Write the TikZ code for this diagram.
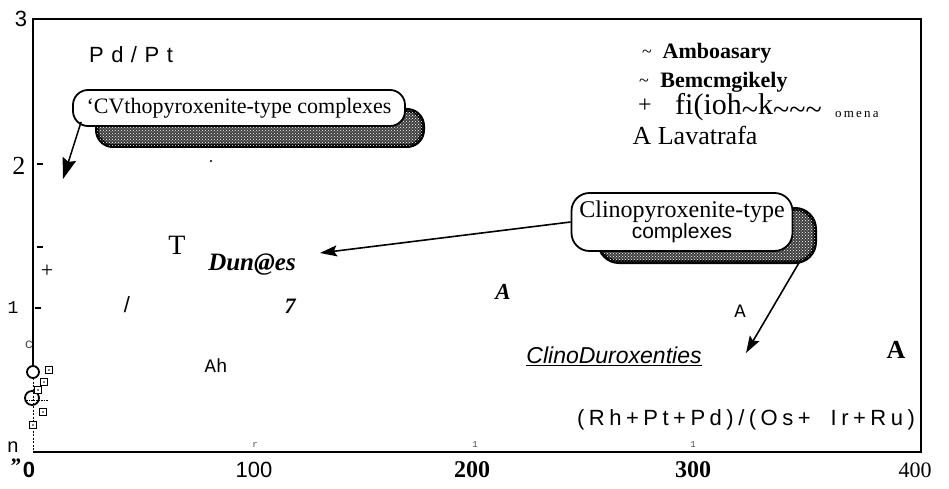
\documentclass[tikz,border=0pt]{standalone}
\usepackage{fontspec}
\setmainfont{Liberation Serif}
\setsansfont{Liberation Sans}
\setmonofont{Liberation Mono}
\usetikzlibrary{arrows.meta,patterns,calc}
\newcommand\fs[1]{\fontsize{#1}{#1}\selectfont}
\newcommand\gp{\hspace{4.5pt}}
\newcommand\wg{\hspace{7.5pt}}
\newcommand\tl{\string~}
\newcommand\lt{\raisebox{-0.14em}{\string~}}
\begin{document}
\begin{tikzpicture}[x=1pt,y=-1pt,
  lbl/.style={inner sep=0pt,anchor=center},
  arr/.style={line width=1.6pt,-{Stealth[length=17pt,width=11pt,inset=3pt]}},
  shadowbox/.style={rounded corners=16pt,draw=black,line width=4pt,fill=black!75,
     postaction={pattern=crosshatch dots,pattern color=white},inner sep=0pt},
  callout/.style={draw,line width=1.8pt,fill=white,inner sep=0pt,align=center},
  sqmark/.style={draw,line width=1.3pt,fill=white,minimum size=7pt,inner sep=0pt},
  ring/.style={draw,line width=1.8pt,circle,inner sep=0pt},
  tickln/.style={line width=1.1pt}
]
\useasboundingbox (0,0) rectangle (949,489);
% frame
\coordinate (tl) at (33,19);
\coordinate (tr) at (921,19);
\coordinate (br) at (921,452);
\coordinate (bl) at (33,452);
\coordinate (la) at (33,366);
\coordinate (lb) at (33,378);
\draw[line width=2.4pt] (la) -- (tl) -- (tr) -- (br) -- (bl);
\draw[line width=1pt,dash pattern=on 2pt off 1.5pt] (lb) -- (bl);
% y labels
\node[lbl] (y3) at (21,19) {\sffamily\fs{22}3};
\node[lbl] (y2) at (19,166) {\fs{26}2};
\node[lbl] (y1) at (13,308) {\ttfamily\fs{18}1};
\node[lbl,text=black!70] (yc) at (29,345) {\ttfamily\fs{14}c};
\node[lbl] (y0) at (13,447) {\sffamily\fs{20}n};
\draw[tickln] (37,164) -- (43,164);
\draw[tickln] (37,247) -- (43,247);
\draw[tickln] (35,308) -- (41,308);
% x labels
\node[lbl] (xq) at (15,466) {\bfseries\itshape\fs{22}"};
\node[lbl] (x0) at (29,470) {\sffamily\bfseries\fs{22}0};
\node[lbl] (x1) at (254,470) {\sffamily\fs{22}100};
\node[lbl] (x2) at (472,470) {\bfseries\fs{24}200};
\node[lbl] (x3) at (693,470) {\bfseries\fs{24}300};
\node[lbl] (x4) at (915,470) {\fs{22}400};
\node[lbl,text=black!70] (k1) at (255,445) {\ttfamily\fs{9}r};
\node[lbl,text=black!70] (k2) at (475,445) {\ttfamily\fs{9}1};
\node[lbl,text=black!70] (k3) at (693,445) {\ttfamily\fs{9}1};
% titles
\node[lbl] (pdpt) at (131,55) {\sffamily\fs{22}P\wg d\wg /\wg P\wg t};
\node[lbl] (ratio) at (746,420) {\sffamily\fs{22}(\gp R\gp h\gp +\gp P\gp t\gp +\gp P\gp d\gp )\gp /\gp (\gp O\gp s\gp +\hspace{20pt}I\gp r\gp +\gp R\gp u\gp )};
% legend
\node[lbl] (g1) at (647,54) {\fs{18}\tl};
\node[lbl] (l1) at (717,53) {\bfseries\fs{22}Amboasary};
\node[lbl] (g2) at (644,83) {\fs{18}\tl};
\node[lbl] (l2) at (724,82) {\bfseries\fs{22}Bemcmgikely};
\node[lbl] (g3) at (645,106) {\fs{24}+};
\node[lbl,anchor=base west] (l3) at (675,115) {\fs{30}fi(ioh\lt k\lt\lt\lt};
\node[lbl,anchor=base west] (l3s) at (835,118) {\fs{13}o\,m\,e\,n\,a};
\node[lbl] (l4) at (695,135) {\fs{26}A Lavatrafa};
% callout 1
\node[shadowbox,minimum width=326pt,minimum height=36pt] (s1) at (260,128) {};
\node[callout,rounded corners=15pt,minimum width=332pt,minimum height=36pt] (b1) at (239,108) {\fs{22}‘CVthopyroxenite-type complexes};
\coordinate (a1e) at (63,179);
\draw[line width=1.5pt,-{Stealth[length=21pt,width=14pt,inset=3pt]}] ($(b1.south west)+(9,-5)$) -- (a1e);
\fill (211,161) circle (1.2pt);
% callout 2
\node[shadowbox,rounded corners=20pt,minimum width=216pt,minimum height=53pt] (s2) at (707,235.5) {};
\node[callout,rounded corners=18pt,minimum width=221pt,minimum height=58pt] (b2) at (682,222) {\fontsize{24}{25}\selectfont Clinopyroxenite-type\\{\sffamily\fs{21}complexes}};
\coordinate (a2e) at (320,253);
\draw[arr] (b2.west) -- (a2e);
\coordinate (a3e) at (746,353);
\draw[arr] ($(s2.south east)+(-17,-3)$) -- (a3e);
% plot labels
\node[lbl] (tT) at (177,245) {\fs{28}T};
\node[lbl] (dun) at (252,265) {\bfseries\itshape\fs{25}Dun@es};
\node[lbl] (plus) at (47,271) {\fs{22}+};
\node[lbl] (sl) at (127,305) {\sffamily\fs{22}/};
\node[lbl] (sev) at (290,306) {\bfseries\itshape\fs{22}7};
\node[lbl] (aBI) at (503,292) {\bfseries\itshape\fs{23}A};
\node[lbl] (aTT) at (740,311) {\ttfamily\fs{19}A};
\node[lbl] (ah) at (216,366) {\ttfamily\fs{19}Ah};
\node[lbl] (clino) at (614,356) {\sffamily\itshape\fs{23}\underline{ClinoDuroxenties}};
\node[lbl] (aB) at (896,350) {\bfseries\fs{26}A};
% markers near origin
\node[ring,minimum size=12pt] (c1) at (33,372) {};
\node[ring,minimum size=14pt] (c2) at (32,398) {};
\foreach \n/\p in {q1/{(49,370)},q2/{(44,382)},q3/{(38,390)},q4/{(43,412)},q5/{(33,425)}}{
  \node[sqmark] (\n) at \p {};
  \fill (\n.center) circle (0.9pt);
}
\draw[line width=0.6pt,dash pattern=on 1.5pt off 1pt] (26,400) -- (48,400);
\end{tikzpicture}
\end{document}
